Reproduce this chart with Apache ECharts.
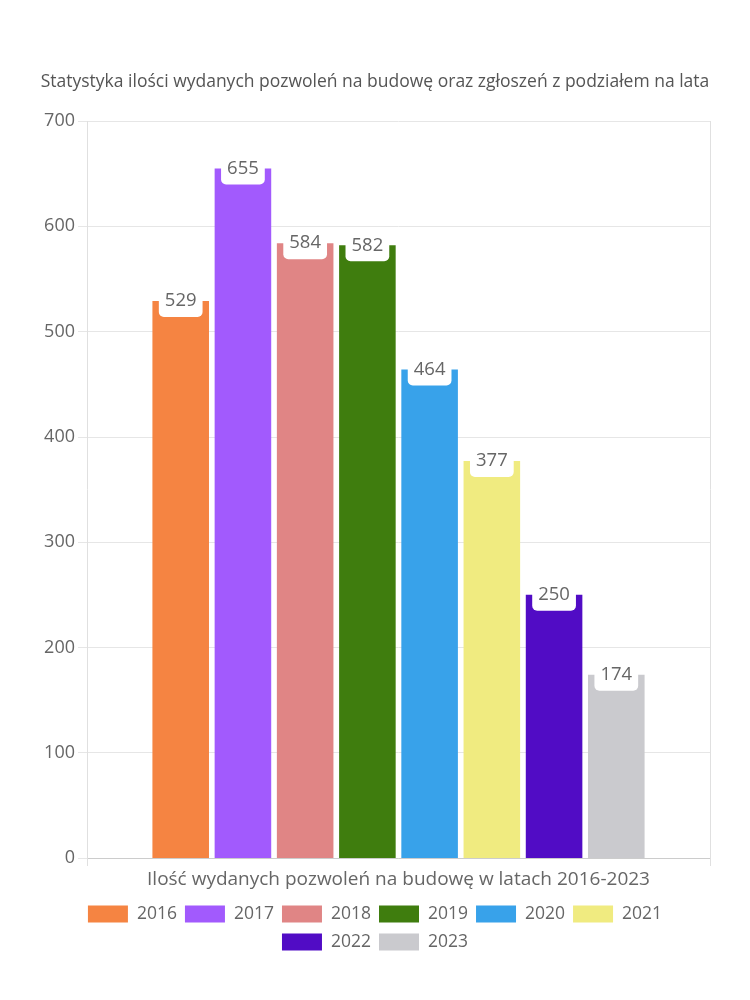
<!DOCTYPE html>
<html>
<head>
<meta charset="utf-8">
<script src="https://cdn.jsdelivr.net/npm/echarts@6/dist/echarts.min.js"></script>
<style>
html,body{margin:0;padding:0;background:#fff;}
#chart{width:750px;height:1000px;}
</style>
</head>
<body>
<div id="chart"></div>
<script>
const titleText = 'Statystyka ilości wydanych pozwoleń na budowę oraz zgłoszeń z podziałem na lata';
const categories = ['Ilość wydanych pozwoleń na budowę w latach 2016-2023'];
const years = ['2016', '2017', '2018', '2019', '2020', '2021', '2022', '2023'];
const values = [529, 655, 584, 582, 464, 377, 250, 174];
const palette = ['#F58442', '#A25AFD', '#E08585', '#3F7D0E', '#38A2EA', '#F0EB80', '#510CC5', '#CACACE'];

const FONT = '"Open Sans", "DejaVu Sans", sans-serif';
const chart = echarts.init(document.getElementById('chart'), null, {renderer: 'canvas'});

const series = years.map((y, i) => ({
  name: y,
  type: 'bar',
  data: [values[i]],
  barGap: '10%',
  barCategoryGap: '21%',
  itemStyle: {color: palette[i]},
  label: {
    show: true,
    position: 'insideTop',
    distance: 0,
    offset: [0, -16],
    fontFamily: FONT,
    fontSize: 18.5,
    lineHeight: 18,
    color: '#666',
    backgroundColor: '#fff',
    padding: [7, 6],
    borderRadius: [0, 0, 5, 5]
  }
}));

const legendCommon = {
  left: 'center',
  itemWidth: 40,
  itemHeight: 17,
  itemGap: 8,
  icon: 'rect',
  textStyle: {fontFamily: FONT, fontSize: 17.5, color: '#666', padding: [0, 0, 0, 4]}
};

chart.setOption({
  animation: false,
  backgroundColor: '#fff',
  color: palette,
  textStyle: {fontFamily: FONT},
  title: {
    text: titleText,
    left: 'center',
    top: 68,
    textStyle: {fontFamily: FONT, fontSize: 17.5, fontWeight: 'normal', color: '#555'}
  },
  legend: [
    Object.assign({data: years.slice(0, 6), top: 900}, legendCommon),
    Object.assign({data: years.slice(6), top: 928}, legendCommon)
  ],
  grid: {left: 87, right: 40, top: 121, bottom: 142},
  xAxis: {
    type: 'category',
    data: categories,
    axisLine: {show: true, lineStyle: {color: '#ccc'}},
    axisTick: {show: true, length: 8, lineStyle: {color: '#e0e0e0'}},
    splitLine: {show: true, lineStyle: {color: '#e0e0e0'}},
    axisLabel: {fontFamily: FONT, fontSize: 19, color: '#666', margin: 12}
  },
  yAxis: {
    type: 'value',
    min: 0,
    max: 700,
    interval: 100,
    axisLine: {show: false},
    axisTick: {show: true, length: 9, lineStyle: {color: '#e6e6e6'}},
    splitLine: {show: true, lineStyle: {color: '#e6e6e6'}},
    axisLabel: {fontFamily: FONT, fontSize: 18, color: '#666', margin: 12}
  },
  series: series
});
</script>
</body>
</html>
